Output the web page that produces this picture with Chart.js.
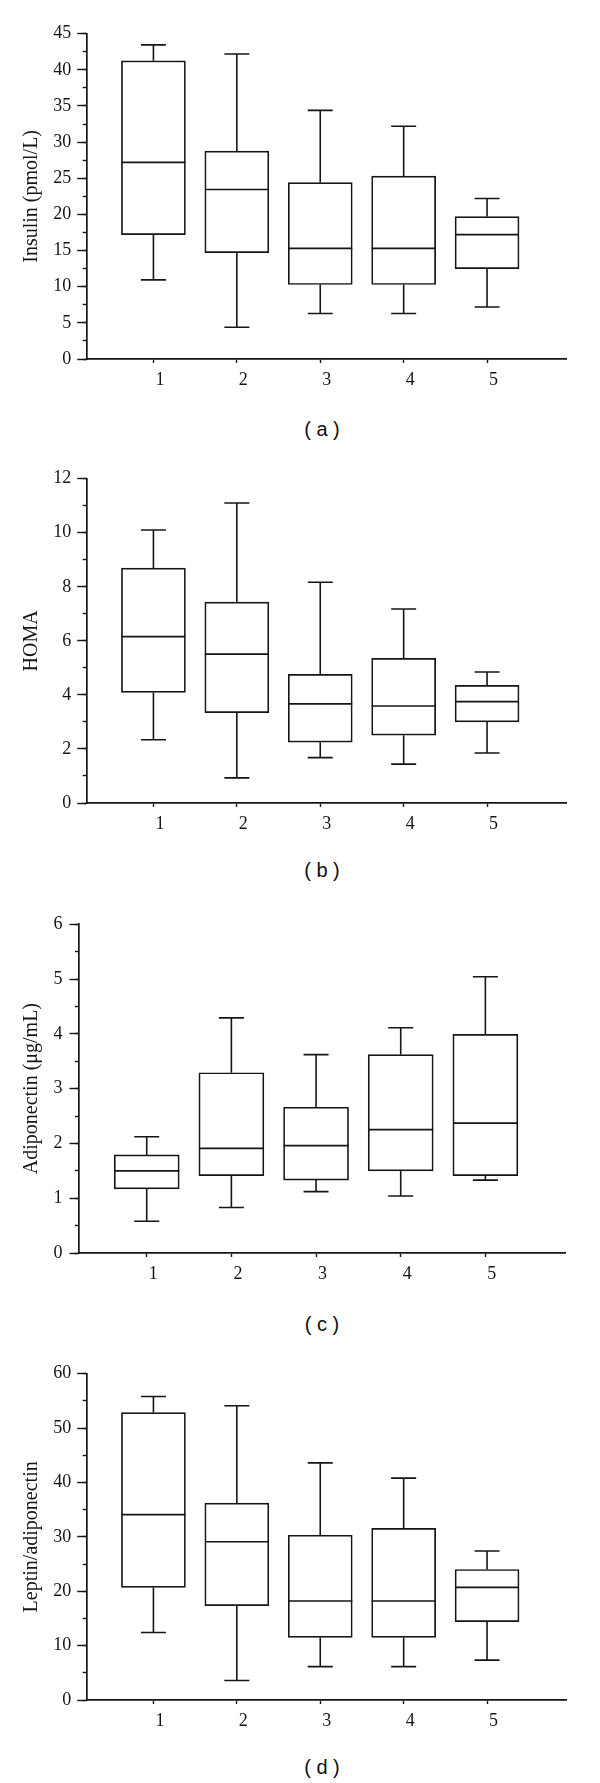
<!DOCTYPE html>
<html>
<head>
<meta charset="utf-8">
<script src="https://cdn.jsdelivr.net/npm/chart.js@4.4.0/dist/chart.umd.min.js"></script>
<style>
  html, body { margin: 0; padding: 0; background: #ffffff; }
  body { width: 600px; height: 1783px; position: relative; overflow: hidden; }
  canvas { position: absolute; left: 0; }
  .plabel { position: absolute; left: 222px; width: 200px; text-align: center;
            font-family: "Liberation Sans", Arial, sans-serif; font-size: 20px; line-height: 24px; color: #111; }
</style>
</head>
<body>
<canvas id="panelA" width="600" height="399" style="top:0px;width:600px;height:399px"></canvas>
<canvas id="panelB" width="600" height="398" style="top:445px;width:600px;height:398px"></canvas>
<canvas id="panelC" width="600" height="403" style="top:890px;width:600px;height:403px"></canvas>
<canvas id="panelD" width="600" height="400" style="top:1340px;width:600px;height:400px"></canvas>
<div class="plabel" style="top:417px">( a )</div>
<div class="plabel" style="top:858px">( b )</div>
<div class="plabel" style="top:1312px">( c )</div>
<div class="plabel" style="top:1755px">( d )</div>
<script>
// ---- data ----
const categories = [1, 2, 3, 4, 5];
const xTickLabels = ['1', '2', '3', '4', '5'];

const insulinMax    = [43.45, 42.2, 34.4, 32.2, 22.2];
const insulinQ3     = [41.25, 28.75, 24.4, 25.3, 19.7];
const insulinMedian = [27.2, 23.45, 15.3, 15.3, 17.2];
const insulinQ1     = [17.2, 14.7, 10.3, 10.3, 12.5];
const insulinMin    = [10.95, 4.4, 6.3, 6.3, 7.2];

const homaMax    = [10.1, 11.1, 8.17, 7.18, 4.85];
const homaQ3     = [8.69, 7.43, 4.76, 5.35, 4.35];
const homaMedian = [6.16, 5.51, 3.67, 3.59, 3.75];
const homaQ1     = [4.09, 3.34, 2.25, 2.51, 3.0];
const homaMin    = [2.34, 0.93, 1.68, 1.44, 1.85];

const adipoMax    = [2.12, 4.29, 3.62, 4.11, 5.04];
const adipoQ3     = [1.79, 3.29, 2.66, 3.62, 3.99];
const adipoMedian = [1.5, 1.91, 1.96, 2.25, 2.37];
const adipoQ1     = [1.17, 1.41, 1.33, 1.5, 1.41];
const adipoMin    = [0.58, 0.83, 1.12, 1.04, 1.33];

const ratioMax    = [55.8, 54.1, 43.6, 40.8, 27.4];
const ratioQ3     = [52.85, 36.2, 30.3, 31.55, 24.0];
const ratioMedian = [34.1, 29.1, 18.2, 18.2, 20.7];
const ratioQ1     = [20.7, 17.35, 11.5, 11.5, 14.4];
const ratioMin    = [12.4, 3.58, 6.13, 6.13, 7.34];

// ---- styling ----
const INK = '#151515';
const TICK_FONT = { family: 'Liberation Serif', size: 18 };
const TITLE_FONT = { family: 'Liberation Serif', size: 20 };

function whiskerPoints(q1, q3, lo, hi) {
  const pts = [];
  categories.forEach((c, i) => {
    pts.push({ x: c, y: q3[i] }, { x: c, y: hi[i] }, { x: c, y: null },
             { x: c, y: q1[i] }, { x: c, y: lo[i] }, { x: c, y: null });
  });
  return pts;
}

function boxPanel(id, s) {
  const ctx = document.getElementById(id);
  new Chart(ctx, {
    type: 'bar',
    data: {
      datasets: [
        {
          type: 'bar',
          data: categories.map((c, i) => ({ x: c, y: [s.q1[i], s.q3[i]] })),
          backgroundColor: '#ffffff',
          borderColor: INK,
          borderWidth: 1.7,
          borderSkipped: false,
          barThickness: s.boxWidth,
          grouped: false,
          order: 3
        },
        {
          type: 'line',
          data: whiskerPoints(s.q1, s.q3, s.min, s.max),
          borderColor: INK,
          borderWidth: 1.6,
          pointRadius: 0,
          spanGaps: false,
          fill: false,
          order: 2
        },
        {
          type: 'scatter',
          data: categories.map((c, i) => ({ x: c, y: s.max[i] }))
                  .concat(categories.map((c, i) => ({ x: c, y: s.min[i] }))),
          pointStyle: 'line',
          pointRadius: 12.5,
          borderColor: INK,
          borderWidth: 1.6,
          order: 1
        },
        {
          type: 'scatter',
          data: categories.map((c, i) => ({ x: c, y: s.median[i] })),
          pointStyle: 'line',
          pointRadius: s.boxWidth / 2,
          borderColor: INK,
          borderWidth: 1.7,
          order: 0
        }
      ]
    },
    options: {
      responsive: false,
      animation: false,
      events: [],
      layout: { padding: { top: s.padTop, right: 20, left: 0, bottom: 0 } },
      plugins: { legend: { display: false }, tooltip: { enabled: false }, title: { display: false } },
      scales: {
        x: {
          type: 'linear',
          min: 0.2,
          max: 5.95,
          offset: false,
          afterBuildTicks: (sc) => { sc.ticks = categories.map(v => ({ value: v })); },
          afterFit: (sc) => { sc.height = 40; },
          ticks: {
            font: TICK_FONT, color: '#151515', padding: 6, labelOffset: 6.5, maxRotation: 0, autoSkip: false,
            callback: (v, i) => xTickLabels[i]
          },
          grid: { display: true, drawOnChartArea: false, drawTicks: true, tickLength: 4,
                  tickWidth: 1.4, tickColor: INK, offset: false },
          border: { display: true, color: INK, width: 1.7 }
        },
        y: {
          type: 'linear',
          position: 'left',
          weight: 1,
          min: 0,
          max: s.yMax,
          afterFit: (sc) => { sc.width = s.yWidth; },
          ticks: { stepSize: s.yStep, font: TICK_FONT, color: '#151515', padding: s.tickPad },
          grid: { display: true, drawOnChartArea: false, drawTicks: true, tickLength: 9.5,
                  tickWidth: 1.4, tickColor: INK },
          border: { display: true, color: INK, width: 1.7 },
          title: { display: true, text: s.yTitle, font: TITLE_FONT, color: '#151515',
                   padding: { top: 20, bottom: 0 } }
        },
        yMinor: {
          type: 'linear',
          position: 'left',
          weight: 0,
          min: 0,
          max: s.yMax,
          afterFit: (sc) => { sc.width = 0; },
          ticks: { stepSize: s.yMinorStep, display: false },
          grid: { display: true, drawOnChartArea: false, drawTicks: true, tickLength: 4,
                  tickWidth: 1.4, tickColor: INK },
          border: { display: false }
        }
      }
    }
  });
}

boxPanel('panelA', {
  yTitle: 'Insulin (pmol/L)', yMax: 45, yStep: 5, yMinorStep: 2.5,
  max: insulinMax, q3: insulinQ3, median: insulinMedian, q1: insulinQ1, min: insulinMin,
  padTop: 30.7, yWidth: 86.7, tickPad: 6, boxWidth: 64
});
boxPanel('panelB', {
  yTitle: 'HOMA', yMax: 12, yStep: 2, yMinorStep: 1,
  max: homaMax, q3: homaQ3, median: homaMedian, q1: homaQ1, min: homaMin,
  padTop: 29.3, yWidth: 86.7, tickPad: 6, boxWidth: 64
});
boxPanel('panelC', {
  yTitle: 'Adiponectin (μg/mL)', yMax: 6, yStep: 1, yMinorStep: 0.5,
  max: adipoMax, q3: adipoQ3, median: adipoMedian, q1: adipoQ1, min: adipoMin,
  padTop: 29, yWidth: 79, tickPad: 7, boxWidth: 65
});
boxPanel('panelD', {
  yTitle: 'Leptin/adiponectin', yMax: 60, yStep: 10, yMinorStep: 5,
  max: ratioMax, q3: ratioQ3, median: ratioMedian, q1: ratioQ1, min: ratioMin,
  padTop: 29.3, yWidth: 86.7, tickPad: 6, boxWidth: 64
});
</script>
</body>
</html>
